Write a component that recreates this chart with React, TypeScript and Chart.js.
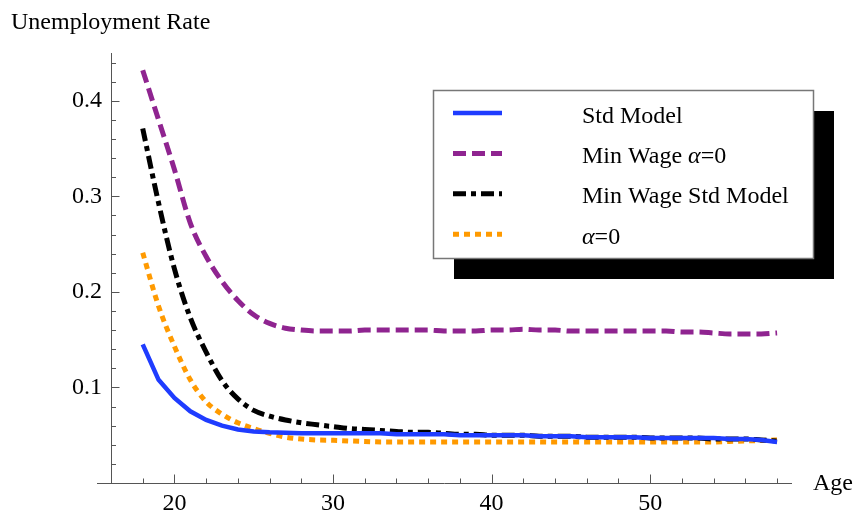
import React, { useEffect, useRef } from "react";
import { Chart, registerables } from "chart.js";

Chart.register(...registerables);

const ages = [18, 19, 20, 21, 22, 23, 24, 25, 26, 27, 28, 29, 30, 31, 32, 33, 34, 35, 36, 37, 38, 39, 40, 41, 42, 43, 44, 45, 46, 47, 48, 49, 50, 51, 52, 53, 54, 55, 56, 57, 58];

const stdModel = [0.145, 0.108, 0.089, 0.075, 0.066, 0.06, 0.056, 0.054, 0.053, 0.0525, 0.052, 0.052, 0.052, 0.052, 0.052, 0.052, 0.051, 0.051, 0.051, 0.051, 0.05, 0.05, 0.05, 0.05, 0.05, 0.049, 0.049, 0.049, 0.048, 0.048, 0.048, 0.048, 0.047, 0.047, 0.047, 0.047, 0.047, 0.046, 0.046, 0.045, 0.043];

const minWageAlpha0 = [0.432, 0.38, 0.328, 0.272, 0.237, 0.211, 0.191, 0.176, 0.167, 0.162, 0.16, 0.159, 0.159, 0.159, 0.16, 0.16, 0.16, 0.16, 0.16, 0.159, 0.159, 0.159, 0.16, 0.16, 0.161, 0.16, 0.16, 0.159, 0.159, 0.159, 0.159, 0.159, 0.159, 0.159, 0.158, 0.158, 0.157, 0.156, 0.156, 0.156, 0.157];

const minWageStd = [0.371, 0.293, 0.224, 0.173, 0.137, 0.107, 0.088, 0.076, 0.07, 0.066, 0.063, 0.061, 0.059, 0.057, 0.056, 0.055, 0.054, 0.053, 0.053, 0.052, 0.051, 0.051, 0.05, 0.05, 0.05, 0.049, 0.049, 0.049, 0.048, 0.048, 0.048, 0.048, 0.047, 0.047, 0.047, 0.047, 0.046, 0.046, 0.046, 0.045, 0.044];

const alpha0 = [0.241, 0.185, 0.143, 0.108, 0.085, 0.072, 0.063, 0.057, 0.052, 0.048, 0.046, 0.045, 0.0447, 0.044, 0.0435, 0.043, 0.043, 0.043, 0.043, 0.043, 0.043, 0.043, 0.043, 0.043, 0.043, 0.043, 0.0428, 0.0428, 0.0428, 0.0428, 0.0428, 0.0428, 0.0428, 0.0428, 0.0428, 0.043, 0.043, 0.0435, 0.044, 0.0445, 0.045];

const seriesLabels = ["Std Model", "Min Wage α=0", "Min Wage Std Model", "α=0"];
const xTickValues = [20, 30, 40, 50];
const yTickValues = [0.1, 0.2, 0.3, 0.4];
const xMinorTicks = [18, 20, 22, 24, 26, 28, 30, 32, 34, 36, 38, 40, 42, 44, 46, 48, 50, 52, 54, 56, 58];
const yMinorTicks = [0.02, 0.04, 0.06, 0.08, 0.1, 0.12, 0.14, 0.16, 0.18, 0.2, 0.22, 0.24, 0.26, 0.28, 0.3, 0.32, 0.34, 0.36, 0.38, 0.4, 0.42, 0.44];
const xAxisTitle = "Age";
const yAxisTitle = "Unemployment Rate";

const FONT = '"Liberation Serif", "Times New Roman", serif';
const FS = 24;

const styles = [
  { color: "#1f3cff", width: 4.5, dash: [] as number[], tension: 0 },
  { color: "#8f2490", width: 5, dash: [13, 6], tension: 0.4 },
  { color: "#000000", width: 5, dash: [13, 5, 5, 5], tension: 0.4 },
  { color: "#ff9a00", width: 5, dash: [6, 5], tension: 0.4 },
];

function drawRich(ctx: CanvasRenderingContext2D, text: string, x: number, y: number, size: number) {
  let cx = x;
  for (const part of text.split(/(α)/)) {
    if (!part) continue;
    ctx.font = (part === "α" ? "italic " : "") + `${size}px ${FONT}`;
    ctx.fillText(part, cx, y);
    cx += ctx.measureText(part).width;
  }
}

const axesPlugin = {
  id: "mmaAxes",
  beforeDatasetsDraw(chart: any) {
    const { ctx, chartArea, scales } = chart;
    const xs = scales.x;
    const ys = scales.y;
    const y0 = Math.round(ys.getPixelForValue(0)) + 0.5;
    const x0 = Math.round(chartArea.left) + 0.5;
    ctx.save();
    ctx.strokeStyle = "#555";
    ctx.lineWidth = 1;
    ctx.beginPath();
    ctx.moveTo(chartArea.left - 14, y0);
    ctx.lineTo(chartArea.right, y0);
    ctx.moveTo(x0, y0);
    ctx.lineTo(x0, chartArea.top);
    for (const v of xMinorTicks) {
      const px = Math.round(xs.getPixelForValue(v)) + 0.5;
      const len = xTickValues.includes(v) ? 9 : 5;
      ctx.moveTo(px, y0);
      ctx.lineTo(px, y0 - len);
    }
    for (const v of yMinorTicks) {
      const py = Math.round(ys.getPixelForValue(v)) + 0.5;
      const major = yTickValues.some((t) => Math.abs(t - v) < 1e-9);
      const len = major ? 8 : 4.5;
      ctx.moveTo(x0, py);
      ctx.lineTo(x0 + len, py);
    }
    ctx.stroke();
    ctx.restore();
  },
  afterDraw(chart: any) {
    const { ctx, chartArea } = chart;
    ctx.save();
    ctx.fillStyle = "#000";
    ctx.textBaseline = "alphabetic";
    ctx.textAlign = "left";
    ctx.font = `${FS}px ${FONT}`;
    ctx.fillText(yAxisTitle, 11, 29);
    ctx.fillText(xAxisTitle, chartArea.right + 21, chartArea.bottom + 7);
    ctx.restore();
  },
};

const legendPlugin = {
  id: "mmaLegend",
  afterDatasetsDraw(chart: any) {
    const { ctx } = chart;
    const bx = 433, by = 90, bw = 380, bh = 168, sh = 21;
    ctx.save();
    ctx.fillStyle = "#000";
    ctx.fillRect(bx + sh, by + sh, bw, bh);
    ctx.fillStyle = "#fff";
    ctx.fillRect(bx, by, bw, bh);
    ctx.strokeStyle = "#777";
    ctx.lineWidth = 1.5;
    ctx.strokeRect(bx + 0.5, by + 0.5, bw, bh);
    chart.data.datasets.forEach((ds: any, i: number) => {
      const ly = 113 + i * 40.4;
      ctx.beginPath();
      ctx.setLineDash(ds.borderDash || []);
      ctx.strokeStyle = ds.borderColor;
      ctx.lineWidth = ds.borderWidth;
      ctx.lineCap = "butt";
      ctx.moveTo(453, ly);
      ctx.lineTo(502, ly);
      ctx.stroke();
      ctx.setLineDash([]);
      ctx.fillStyle = "#000";
      ctx.textBaseline = "alphabetic";
      drawRich(ctx, ds.label, 582, ly + 9.5, FS);
    });
    ctx.restore();
  },
};

export default function App() {
  const ref = useRef<HTMLCanvasElement | null>(null);
  useEffect(() => {
    if (!ref.current) return;
    const series = [stdModel, minWageAlpha0, minWageStd, alpha0];
    const chart = new Chart(ref.current, {
      type: "line",
      data: {
        datasets: series.map((vals, i) => ({
          label: seriesLabels[i],
          data: ages.map((a, j) => ({ x: a, y: vals[j] })),
          borderColor: styles[i].color,
          borderWidth: styles[i].width,
          borderDash: styles[i].dash,
          borderCapStyle: "butt",
          tension: styles[i].tension,
          cubicInterpolationMode: i === 0 ? "default" : "monotone",
          pointRadius: 0,
          fill: false,
        })),
      },
      options: {
        animation: false,
        responsive: false,
        layout: { padding: { top: 53, right: 62, left: 0, bottom: 0 } },
        plugins: { legend: { display: false }, tooltip: { enabled: false } },
        scales: {
          x: {
            type: "linear",
            min: 16,
            max: 58.94,
            grid: { display: false, drawTicks: false },
            border: { display: false },
            afterFit: (s: any) => { s.height = 31; },
            afterBuildTicks: (s: any) => { s.ticks = xTickValues.map((v) => ({ value: v })); },
            ticks: {
              padding: 6,
              color: "#000",
              font: { family: FONT, size: FS },
              maxRotation: 0,
              autoSkip: false,
              callback: (v: any) => String(v),
            },
          },
          y: {
            type: "linear",
            min: 0,
            max: 0.45,
            grid: { display: false, drawTicks: false },
            border: { display: false },
            afterFit: (s: any) => { s.width = 111; },
            afterBuildTicks: (s: any) => { s.ticks = yTickValues.map((v) => ({ value: v })); },
            ticks: {
              padding: 9,
              color: "#000",
              font: { family: FONT, size: FS },
              autoSkip: false,
              callback: (v: any) => Number(v).toFixed(1),
            },
          },
        },
      },
      plugins: [axesPlugin, legendPlugin],
    } as any);
    return () => chart.destroy();
  }, []);
  return (
    <div style={{ position: "absolute", left: 0, top: 0, width: 854, height: 514, background: "#fff" }}>
      <canvas ref={ref} width={854} height={514} style={{ width: 854, height: 514, display: "block" }} />
    </div>
  );
}
